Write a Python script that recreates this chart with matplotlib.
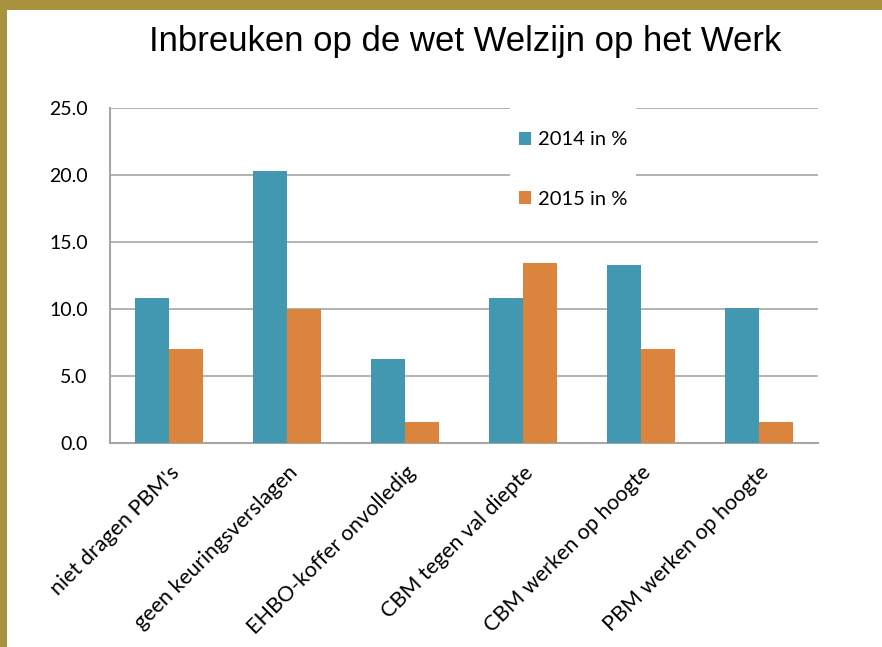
import matplotlib.pyplot as plt
import numpy as np
from matplotlib.patches import Rectangle

categories = ["niet dragen PBM's", "geen keuringsverslagen", "EHBO-koffer onvolledig",
              "CBM tegen val diepte", "CBM werken op hoogte", "PBM werken op hoogte"]
pct_2014 = [10.8, 20.3, 6.3, 10.8, 13.3, 10.1]
pct_2015 = [7.0, 10.0, 1.6, 13.4, 7.0, 1.6]
yticks = [0, 5, 10, 15, 20, 25]

blue = '#4298b0'
orange = '#db843d'
grid_c = '#a6a6a6'
label_font = ['Lato', 'DejaVu Sans']

fig = plt.figure(figsize=(8.82, 6.47), dpi=100)
# golden frame on top and left
fig.patches.append(Rectangle((0, 1 - 10/647), 1, 10/647, transform=fig.transFigure,
                             facecolor='#a8923e', edgecolor='none'))
fig.patches.append(Rectangle((0, 0), 7/882, 1, transform=fig.transFigure,
                             facecolor='#a8923e', edgecolor='none'))

ax = fig.add_axes([110/882, 1 - 443/647, 708/882, 335/647])
x = np.arange(len(categories))
w = 0.288
ax.bar(x - w/2, pct_2014, w, color=blue, label='2014 in %', zorder=3)
ax.bar(x + w/2, pct_2015, w, color=orange, label='2015 in %', zorder=3)

ax.set_xlim(-0.5, len(categories) - 0.5)
ax.set_ylim(0, 25)
ax.set_yticks(yticks)
ax.set_yticklabels([f'{v:.1f}' for v in yticks], family=label_font, fontsize=14)
ax.yaxis.grid(True, color=grid_c, linewidth=1.2, zorder=0)
ax.tick_params(axis='y', length=0, pad=16)
ax.tick_params(axis='x', length=0, pad=14)
ax.set_xticks(x)
ax.set_xticklabels(categories, rotation=45, ha='right', va='top',
                   rotation_mode='anchor', family=label_font, fontsize=15.5)
for s in ['top', 'right']:
    ax.spines[s].set_visible(False)
for s in ['left', 'bottom']:
    ax.spines[s].set_color(grid_c)
    ax.spines[s].set_linewidth(1.5)

# white legend background that hides part of the gridlines
ax.add_patch(Rectangle((400/708, 218/335), 126/708, 125/335, transform=ax.transAxes,
                       facecolor='white', edgecolor='none', zorder=4, clip_on=False))
leg = ax.legend(loc='upper left', bbox_to_anchor=(409/708, 0.930), frameon=False,
                prop={'family': label_font, 'size': 14.5}, labelspacing=2.1,
                handlelength=0.6, handleheight=0.6, handletextpad=0.35,
                borderpad=0, borderaxespad=0)
leg.set_zorder(5)

fig.text(465/882, 1 - 42/647, 'Inbreuken op de wet Welzijn op het Werk',
         ha='center', va='center', fontsize=25, family='Liberation Sans')

fig.savefig('out.png', dpi=100, facecolor='white')
